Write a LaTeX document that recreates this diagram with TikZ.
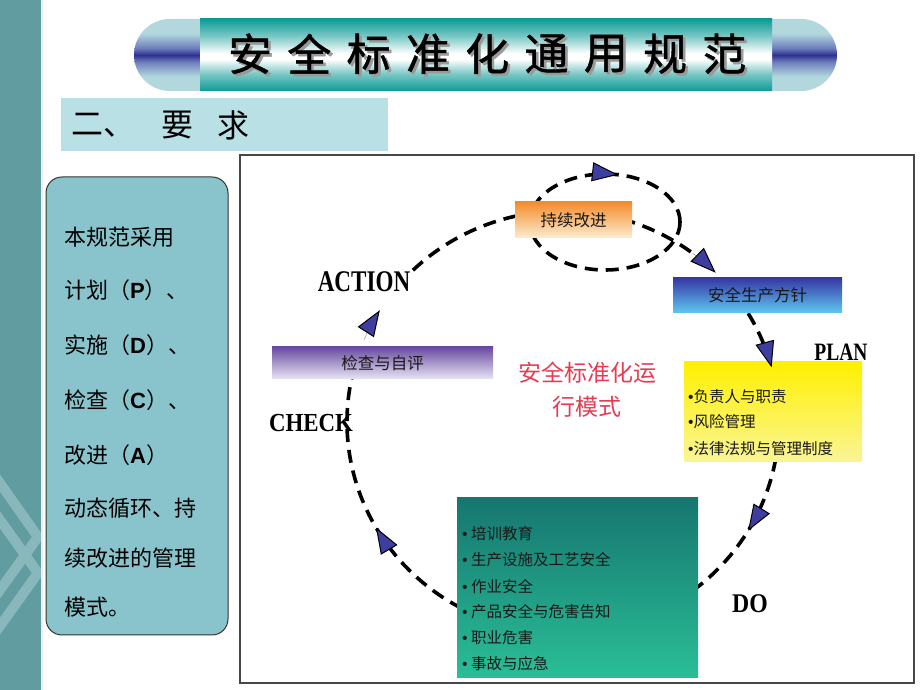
\documentclass[tikz,border=0pt]{standalone}
\usepackage{fontspec}
\setmainfont{Liberation Serif}
\newfontfamily\cjk{Noto Sans CJK SC}
\newfontfamily\cjktitle[FakeBold=1]{Noto Sans CJK SC}
\newfontfamily\lsans{Liberation Sans}
\usetikzlibrary{calc,arrows.meta}
\definecolor{stripe}{RGB}{96,156,160}
\definecolor{chev}{RGB}{137,184,188}
\definecolor{teal1}{RGB}{14,155,150}
\definecolor{capl}{RGB}{178,216,222}
\definecolor{capmid}{RGB}{112,128,188}
\definecolor{capd}{RGB}{46,49,146}
\definecolor{subbg}{RGB}{185,224,228}
\definecolor{panelbg}{RGB}{137,196,204}
\definecolor{arrowblue}{RGB}{62,62,160}
\definecolor{darktxt}{RGB}{25,25,25}
\definecolor{redtxt}{RGB}{232,58,80}
\definecolor{orgtop}{RGB}{243,140,45}
\definecolor{orgbot}{RGB}{253,236,208}
\definecolor{purtop}{RGB}{105,75,160}
\definecolor{purbot}{RGB}{232,228,244}
\definecolor{blutop}{RGB}{55,55,165}
\definecolor{blubot}{RGB}{95,200,240}
\definecolor{yeltop}{RGB}{255,240,0}
\definecolor{yelbot}{RGB}{250,245,150}
\definecolor{grntop}{RGB}{22,118,112}
\definecolor{grnbot}{RGB}{42,190,150}
\pgfdeclareverticalshading{capshade}{100bp}{color(0bp)=(capl); color(25bp)=(capl); color(35bp)=(capl); color(45bp)=(capmid); color(50bp)=(capd); color(55bp)=(capmid); color(65bp)=(capl); color(75bp)=(capl); color(100bp)=(capl)}
\pgfdeclareverticalshading{barshade}{100bp}{color(0bp)=(teal1); color(25bp)=(teal1); color(37bp)=(teal1!55!white); color(47bp)=(white); color(51bp)=(white); color(63bp)=(teal1!55!white); color(75bp)=(teal1); color(100bp)=(teal1)}
\newcommand{\shadowed}[1]{\makebox[0pt][l]{\hspace{2.5pt}\raisebox{-2.5pt}{\color{black!40}#1}}#1}
\begin{document}
\begin{tikzpicture}[x=1pt,y=1pt,
  dashline/.style={line width=3.6pt, dash pattern=on 13pt off 8pt},
  arrowtip/.style={line width=0.1pt, draw=black, -{Triangle[length=26pt,width=19pt,fill=arrowblue,line width=1pt]}},
  titlechar/.style={font=\cjktitle\fontsize{44}{44}\selectfont, text=black, inner sep=0pt},
  paneltxt/.style={anchor=west, inner sep=0pt, font=\cjk\fontsize{22}{22}\selectfont, text=black},
  boxtxt/.style={inner sep=0pt, font=\cjk\fontsize{16.5}{16.5}\selectfont, text=darktxt},
  listtxt/.style={anchor=west, inner sep=0pt, font=\cjk\fontsize{15.5}{15.5}\selectfont, text=darktxt},
  phase/.style={inner sep=0pt, text=black, font=\bfseries},
  gbox/.style={draw=none, inner sep=0pt, shading=axis}
]
\useasboundingbox (0,0) rectangle (920,690);
\fill[white] (0,0) rectangle (920,690);

% left stripe with chevrons
\fill[stripe] (0,0) rectangle (41,690);
\begin{scope}
  \clip (0,0) rectangle (41,690);
  \draw[chev, line width=10pt] (-10,221) -- (38,153) -- (-10,86);
  \draw[chev, line width=10pt] (-10,184) -- (38,117) -- (-10,50);
\end{scope}
\fill[white!85!stripe] (41,0) rectangle (43,690);

% title bar
\shade[shading=capshade]
  (200,599) -- (170,599) arc[start angle=270, end angle=90, radius=36] -- (200,671) -- cycle;
\shade[shading=capshade]
  (772,599) -- (801,599) arc[start angle=-90, end angle=90, radius=36] -- (772,671) -- cycle;
\shade[shading=barshade] (200,599) rectangle (772,671);
\foreach \ch [count=\i from 0] in {安,全,标,准,化,通,用,规,范} {
  \node[titlechar] (t\i) at (250+59.3*\i, 635) {\shadowed{\ch}};
}

% subtitle
\fill[subbg] (61,539) rectangle (388,592);
\node[anchor=west, inner sep=0pt, font=\cjk\fontsize{32}{32}\selectfont] (s1) at (71,565) {二、};
\node[inner sep=0pt, font=\cjk\fontsize{32}{32}\selectfont] (s2) at (177,565) {要};
\node[inner sep=0pt, font=\cjk\fontsize{32}{32}\selectfont] (s3) at (233,565) {求};

% left panel
\draw[rounded corners=16pt, fill=panelbg, draw=black!80, line width=1pt] (46,55) rectangle (228,513);
\node[paneltxt] (p1) at (64,453) {本规范采用};
\node[paneltxt] (p2) at (64,400) {计划（{\lsans\bfseries P}）、};
\node[paneltxt] (p3) at (64,345) {实施（{\lsans\bfseries D}）、};
\node[paneltxt] (p4) at (64,290) {检查（{\lsans\bfseries C}）、};
\node[paneltxt] (p5) at (64,235) {改进（{\lsans\bfseries A}）};
\node[paneltxt] (p6) at (64,182) {动态循环、持};
\node[paneltxt] (p7) at (64,132) {续改进的管理};
\node[paneltxt] (p8) at (64,83) {模式。};

% frame
\draw[line width=1.8pt, draw=black!72] (240,7) rectangle (914,535);

% cycle geometry
\coordinate (C) at (563,268);
\coordinate (S) at (605,468);
\draw[dashline] (S) ellipse[x radius=75, y radius=48];
\draw[dashline] ($(C)+(134:216 and 211)$) arc[start angle=134, end angle=96, x radius=216, y radius=211];
\draw[dashline] ($(C)+(74:216 and 211)$) arc[start angle=74, end angle=52, x radius=216, y radius=211];
\draw[dashline] ($(C)+(31:216 and 211)$) arc[start angle=31, end angle=22, x radius=216, y radius=211];
\draw[dashline] ($(C)+(-10:216 and 211)$) arc[start angle=-10, end angle=-53, x radius=216, y radius=211];
\draw[dashline] ($(C)+(242:216 and 211)$) arc[start angle=242, end angle=166, x radius=216, y radius=211];

% boxes
\node[gbox, top color=orgtop, bottom color=orgbot, minimum width=117, minimum height=36] (kz) at (573.5,470) {};
\node[boxtxt] at (kz) {持续改进};
\node[gbox, top color=blutop, bottom color=blubot, minimum width=169, minimum height=35] (fz) at (757.5,394.5) {};
\node[boxtxt] at (fz) {安全生产方针};
\node[gbox, top color=purtop, bottom color=purbot, minimum width=221, minimum height=32] (jc) at (382.5,327) {};
\node[boxtxt] at (jc) {检查与自评};
\node[gbox, top color=yeltop, bottom color=yelbot, minimum width=178, minimum height=100] (pl) at (773,278) {};
\node[gbox, top color=grntop, bottom color=grnbot, minimum width=241, minimum height=180] (dobox) at (577.5,102) {};

\node[listtxt] (y1) at (688,293) {{\lsans •}负责人与职责};
\node[listtxt] (y2) at (688,268) {{\lsans •}风险管理};
\node[listtxt] (y3) at (688,241) {{\lsans •}法律法规与管理制度};

\node[listtxt] (g1) at (462,156) {{\lsans •} 培训教育};
\node[listtxt] (g2) at (462,130) {{\lsans •} 生产设施及工艺安全};
\node[listtxt] (g3) at (462,103) {{\lsans •} 作业安全};
\node[listtxt] (g4) at (462,78) {{\lsans •} 产品安全与危害告知};
\node[listtxt] (g5) at (462,52) {{\lsans •} 职业危害};
\node[listtxt] (g6) at (462,26) {{\lsans •} 事故与应急};

% arrowheads
\draw[arrowtip] ($(S)+(103:75 and 48)$) arc[start angle=103, end angle=80, x radius=75, y radius=48];
\draw[arrowtip] ($(C)+(53:216 and 211)$) arc[start angle=53, end angle=45, x radius=216, y radius=211];
\draw[arrowtip] ($(C)+(23:216 and 211)$) arc[start angle=23, end angle=15, x radius=216, y radius=211];
\draw[arrowtip] ($(C)+(-23:216 and 211)$) arc[start angle=-23, end angle=-31, x radius=216, y radius=211];
\draw[arrowtip] ($(C)+(218:216 and 211)$) arc[start angle=218, end angle=210, x radius=216, y radius=211];
\draw[arrowtip] ($(C)+(157:216 and 211)$) arc[start angle=157, end angle=148, x radius=216, y radius=211];

% phase labels
\node[phase] (act) at (364,408) {\scalebox{0.77}[1]{\fontsize{30}{30}\selectfont ACTION}};
\node[phase] (chk) at (311,267) {\scalebox{0.88}[1]{\fontsize{26}{26}\selectfont CHECK}};
\node[phase] (pln) at (841,338) {\scalebox{0.78}[1]{\fontsize{25}{25}\selectfont PLAN}};
\node[phase] (dol) at (750,86) {\scalebox{0.88}[1]{\fontsize{27}{27}\selectfont DO}};

% center caption
\node[align=center, inner sep=0pt, text=redtxt, font=\cjk\fontsize{23}{34}\selectfont] (cap) at (587,300) {安全标准化运\\行模式};
\end{tikzpicture}
\end{document}
